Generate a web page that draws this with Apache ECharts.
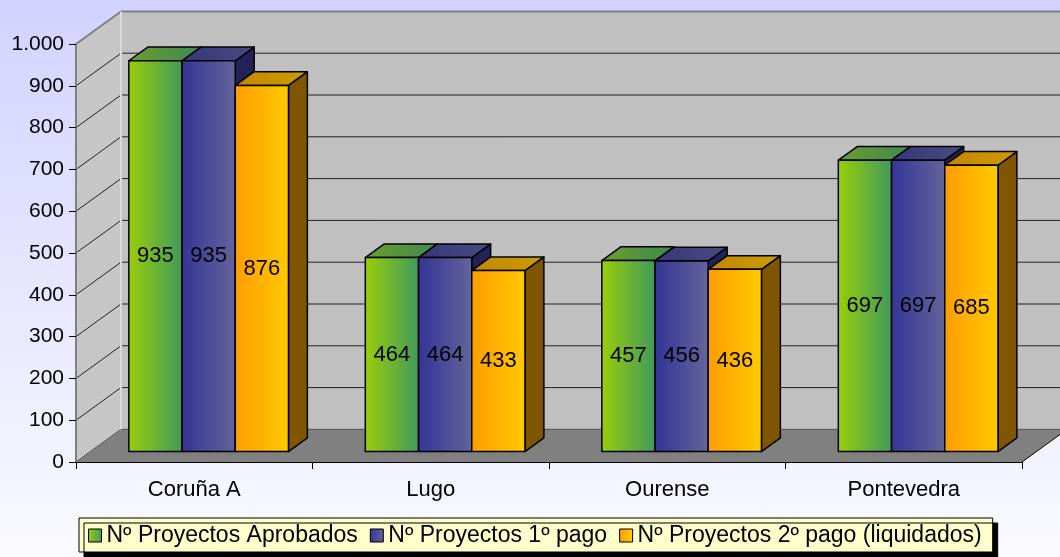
<!DOCTYPE html>
<html>
<head>
<meta charset="utf-8">
<script src="https://cdn.jsdelivr.net/npm/echarts@6/dist/echarts.min.js"></script>
<style>
html,body{margin:0;padding:0;}
#c{width:1060px;height:557px;background:linear-gradient(to bottom,#D2D2FF 0%,#E8E8FF 55%,#FAFAFF 100%);}
</style>
</head>
<body>
<div id="c"></div>
<script>
// ---- data ----
const categories = ['Coruña A', 'Lugo', 'Ourense', 'Pontevedra'];
const seriesNames = ['Nº Proyectos Aprobados', 'Nº Proyectos 1º pago', 'Nº Proyectos 2º pago (liquidados)'];
const aprobados = [935, 464, 457, 697];
const pago1 = [935, 464, 456, 697];
const pago2 = [876, 433, 436, 685];
const yTicks = [0, 100, 200, 300, 400, 500, 600, 700, 800, 900, 1000];

const seriesValues = [aprobados, pago1, pago2];
const yMax = yTicks[yTicks.length - 1];

// ---- 3D look constants ----
const DX = 45, DY = -32.6;       // depth of the floor / walls
const FRONT = 0.32, BACK = 0.74; // bar depth range as fraction of the floor depth
const BAR_FRAC = 0.225;          // bar width as fraction of category width
const FONT = '"Liberation Sans", Arial, sans-serif';

const G = echarts.graphic.LinearGradient;
const frontFill = [
  () => new G(0, 0, 1, 0, [{offset: 0, color: '#9ACD0A'}, {offset: 1, color: '#3F9A5C'}]),
  () => new G(0, 0, 1, 0, [{offset: 0, color: '#343497'}, {offset: 1, color: '#64649B'}]),
  () => new G(0, 0, 1, 0, [{offset: 0, color: '#FF9C00'}, {offset: 1, color: '#FFCA00'}])
];
const topFill = [
  () => new G(0, 0, 1, 0, [{offset: 0, color: '#6E9C2A'}, {offset: 1, color: '#3C8A55'}]),
  () => new G(0, 0, 1, 0, [{offset: 0, color: '#37377A'}, {offset: 1, color: '#4A4A80'}]),
  () => new G(0, 0, 1, 0, [{offset: 0, color: '#C48600'}, {offset: 1, color: '#CC9C00'}])
];
const sideFill = ['#2E6E48', '#22225A', '#7F5500'];

function renderFrame(params, api) {
  const bw = api.size([1, 0])[0];
  const c0 = api.coord([0, 0]);
  const cN = api.coord([categories.length - 1, 0]);
  const xL = c0[0] - bw / 2, xR = cN[0] + bw / 2;
  const y0 = c0[1];
  const yT = api.coord([0, yMax])[1];
  const ch = [];
  ch.push({type: 'polygon', shape: {points: [[xL + DX, yT + DY], [xR + DX + 20, yT + DY], [xR + DX + 20, y0 + DY], [xL + DX, y0 + DY]]},
    style: {fill: '#C0C0C0'}});
  ch.push({type: 'polygon', shape: {points: [[xL, yT], [xL + DX, yT + DY], [xL + DX, y0 + DY], [xL, y0]]},
    style: {fill: '#C6C6C6'}});
  yTicks.forEach(v => {
    const y = api.coord([0, v])[1];
    ch.push({type: 'polyline', shape: {points: [[xL, y], [xL + DX, y + DY], [xR + DX + 20, y + DY]]},
      style: {stroke: v === yMax ? '#808080' : '#222', lineWidth: v === yMax ? 2 : 1, fill: null}});
  });
  ch.push({type: 'line', shape: {x1: xL + DX, y1: yT + DY, x2: xL + DX, y2: y0 + DY},
    style: {stroke: '#DADADA', lineWidth: 2}});
  ch.push({type: 'polygon', shape: {points: [[xL, y0], [xR, y0], [xR + DX, y0 + DY], [xL + DX, y0 + DY]]},
    style: {fill: '#808080'}});
  ch.push({type: 'line', shape: {x1: xR, y1: y0, x2: xR + DX, y2: y0 + DY},
    style: {stroke: '#000', lineWidth: 1}});
  return {type: 'group', children: ch};
}

function makeBarRender(k) {
  return function (params, api) {
    const ci = api.value(0), v = api.value(1);
    const bw = api.size([1, 0])[0];
    const w = bw * BAR_FRAC;
    const base = api.coord([ci, 0]);
    const top = api.coord([ci, v]);
    const x0 = base[0] - 1.5 * w + k * w + FRONT * DX;
    const x1 = x0 + w;
    const yb = base[1] + FRONT * DY;
    const yt = top[1] + FRONT * DY;
    const ddx = (BACK - FRONT) * DX, ddy = (BACK - FRONT) * DY;
    const edge = {stroke: '#000', lineWidth: 1.5, lineJoin: 'round'};
    return {
      type: 'group',
      children: [
        {type: 'polygon', shape: {points: [[x1, yt], [x1 + ddx, yt + ddy], [x1 + ddx, yb + ddy], [x1, yb]]},
          style: Object.assign({fill: sideFill[k]}, edge)},
        {type: 'polygon', shape: {points: [[x0, yt], [x0 + ddx, yt + ddy], [x1 + ddx, yt + ddy], [x1, yt]]},
          style: Object.assign({fill: topFill[k]()}, edge)},
        {type: 'rect', shape: {x: x0, y: yt, width: w, height: yb - yt},
          style: Object.assign({fill: frontFill[k]()}, edge)},
        {type: 'text', style: {text: String(v), x: (x0 + x1) / 2, y: (yt + yb) / 2,
          align: 'center', verticalAlign: 'middle', textAlign: 'center', textVerticalAlign: 'middle',
          fill: '#000', font: '22px ' + FONT}}
      ]
    };
  };
}

const chart = echarts.init(document.getElementById('c'), null, {renderer: 'canvas'});
const fmt = v => String(v).replace(/\B(?=(\d{3})+(?!\d))/g, '.');

chart.setOption({
  backgroundColor: 'transparent',
  animation: false,
  grid: {left: 76, right: 38, top: 44, bottom: 95},
  legend: {
    data: seriesNames,
    left: 79, top: 518,
    padding: [6, 11, 5, 9],
    itemGap: 12, itemWidth: 13, itemHeight: 13,
    icon: 'rect',
    selectedMode: false,
    itemStyle: {borderColor: '#000', borderWidth: 1},
    textStyle: {fontSize: 23, fontFamily: FONT, color: '#000'},
    backgroundColor: '#FFFFCC',
    borderColor: '#000', borderWidth: 1, borderRadius: 0,
    shadowColor: '#000', shadowBlur: 0, shadowOffsetX: 5, shadowOffsetY: 5
  },
  xAxis: {
    type: 'category', data: categories, z: 5,
    boundaryGap: true,
    axisLine: {show: true, lineStyle: {color: '#000', width: 1}},
    axisTick: {show: true, length: 7, lineStyle: {color: '#000'}},
    axisLabel: {fontSize: 22, fontFamily: FONT, color: '#000', margin: 17},
    splitLine: {show: false}
  },
  yAxis: {
    type: 'value', min: 0, max: yMax, interval: 100, z: 5,
    axisLine: {show: true, lineStyle: {color: '#808080', width: 2}},
    axisTick: {show: true, length: 7, lineStyle: {color: '#000'}},
    axisLabel: {fontSize: 21, fontFamily: FONT, color: '#000', margin: 12, formatter: fmt},
    splitLine: {show: false}
  },
  series: [
    {type: 'custom', name: '__frame', renderItem: renderFrame, data: [[0, 0]], silent: true, z: 1,
      encode: {x: 0, y: 1}, tooltip: {show: false}}
  ].concat(seriesNames.map((n, k) => ({
    type: 'custom', name: n, renderItem: makeBarRender(k), z: 2,
    encode: {x: 0, y: 1},
    itemStyle: {color: frontFill[k](), borderColor: '#000', borderWidth: 1},
    data: seriesValues[k].map((v, i) => [i, v])
  })))
});
</script>
</body>
</html>
